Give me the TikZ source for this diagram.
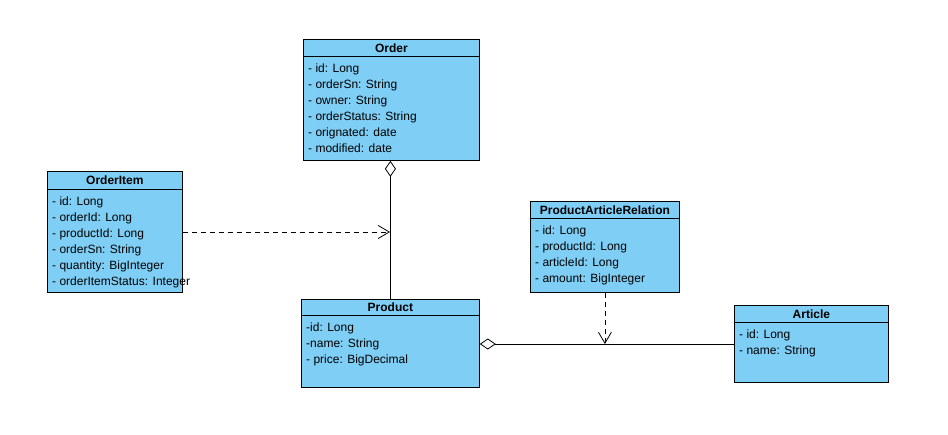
\documentclass[tikz,border=0pt]{standalone}
\usepackage{fontspec}
\setmainfont{Liberation Sans}
\usetikzlibrary{arrows.meta}
\definecolor{clsblue}{RGB}{126,206,245}

\begin{document}
\begin{tikzpicture}[x=1pt,y=-1pt,
		font=\fontsize{12}{16}\selectfont,
		box/.style={draw,fill=clsblue,line width=0.8pt,anchor=north west,inner sep=0pt},
		head/.style={box,font=\fontsize{12}{16}\selectfont\bfseries},
		attrs/.style={anchor=north west,align=left,inner xsep=5pt,inner ysep=8pt},
		dep/.style={dashed,dash pattern=on 5pt off 4pt,line width=0.8pt,-{Straight Barb[length=11pt,width=13pt]}},
		agg/.style={line width=0.8pt,-{Diamond[fill=white,length=16pt,width=11pt]}}]
		\useasboundingbox (0,0) rectangle (948,434);
		%
		\node (orderH) [head,minimum width=176pt,minimum height=17pt] at (303,39) {Order};
		\node (orderB) [box,minimum width=176pt,minimum height=104pt] at (303,56) {};
		\node (orderT) [attrs] at (orderB.north west) {- id: Long\\- orderSn: String\\- owner: String\\- orderStatus: String\\- orignated: date\\- modified: date};
		%
		\node (itemH) [head,minimum width=135pt,minimum height=18pt] at (47,171) {OrderItem};
		\node (itemB) [box,minimum width=135pt,minimum height=103pt] at (47,189) {};
		\node (itemT) [attrs] at (itemB.north west) {- id: Long\\- orderId: Long\\- productId: Long\\- orderSn: String\\- quantity: BigInteger\\- orderItemStatus: Integer};
		%
		\node (productH) [head,minimum width=178pt,minimum height=16pt] at (301,299) {Product};
		\node (productB) [box,minimum width=178pt,minimum height=72pt] at (301,315) {};
		\node (productT) [attrs] at (productB.north west) {-id: Long\\-name: String\\- price: BigDecimal};
		%
		\node (relH) [head,minimum width=149pt,minimum height=17pt] at (530,201) {ProductArticleRelation};
		\node (relB) [box,minimum width=149pt,minimum height=74pt] at (530,218) {};
		\node (relT) [attrs] at (relB.north west) {- id: Long\\- productId: Long\\- articleId: Long\\- amount: BigInteger};
		%
		\node (articleH) [head,minimum width=154pt,minimum height=17pt] at (734,305) {Article};
		\node (articleB) [box,minimum width=154pt,minimum height=60pt] at (734,322) {};
		\node (articleT) [attrs] at (articleB.north west) {- id: Long\\- name: String};
		%
		\coordinate (hitA) at (390,232);
		\coordinate (hitB) at (604,344);
		%
		\draw[agg] (productH.north) -- (productH.north |- orderB.south);
		\draw[agg] (articleB.west |- hitB) -- (productB.east |- hitB);
		\draw[dep] (itemB.east |- hitA) -- (hitA);
		\draw[dep] (relB.south) -- (relB.south |- hitB);
\end{tikzpicture}
\end{document}
